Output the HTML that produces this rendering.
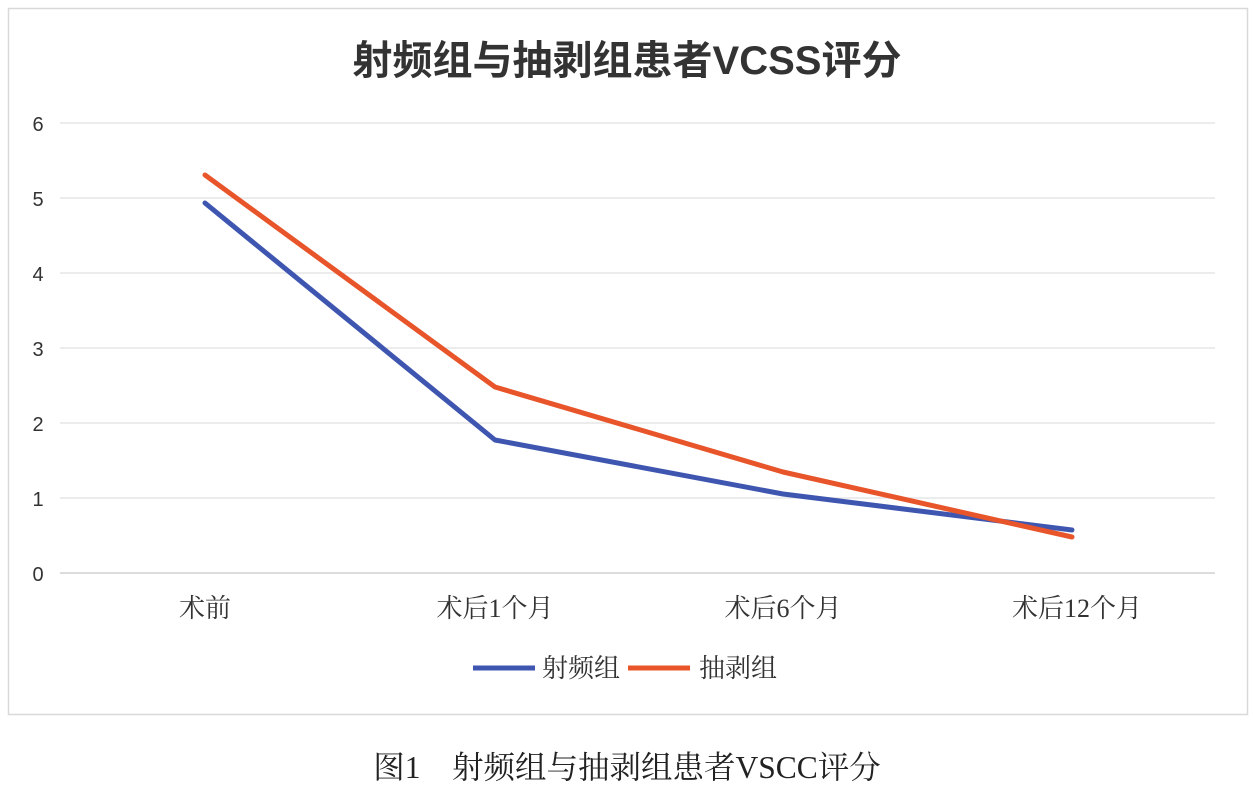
<!DOCTYPE html>
<html><head><meta charset="utf-8"><style>
html,body{margin:0;padding:0;background:#fff;}
svg{display:block;}
</style></head><body>
<svg width="1254" height="789" viewBox="0 0 1254 789" xmlns="http://www.w3.org/2000/svg">
<rect x="0" y="0" width="1254" height="789" fill="#fff"/>
<rect x="8.5" y="8.5" width="1239" height="706" fill="#fff" stroke="#d9d9d9" stroke-width="1.5"/>
<text x="627" y="74" text-anchor="middle" font-family="'Liberation Sans','Noto Sans CJK SC',sans-serif" font-weight="bold" font-size="40" fill="#333">射频组与抽剥组患者VCSS评分</text>
<g stroke="#e6e6e6" stroke-width="1.5">
<line x1="60" y1="123" x2="1215" y2="123"/>
<line x1="60" y1="198" x2="1215" y2="198"/>
<line x1="60" y1="273" x2="1215" y2="273"/>
<line x1="60" y1="348" x2="1215" y2="348"/>
<line x1="60" y1="423" x2="1215" y2="423"/>
<line x1="60" y1="498" x2="1215" y2="498"/>
</g>
<line x1="60" y1="573" x2="1215" y2="573" stroke="#d0d0d0" stroke-width="1.5"/>
<g font-family="'Liberation Sans',sans-serif" font-size="20" fill="#333" text-anchor="middle">
<text x="38" y="131">6</text><text x="38" y="206">5</text><text x="38" y="281">4</text>
<text x="38" y="356">3</text><text x="38" y="431">2</text><text x="38" y="506">1</text><text x="38" y="581">0</text>
</g>
<g font-family="'Liberation Serif','Noto Serif CJK SC',serif" font-size="26" fill="#333" text-anchor="middle">
<text x="205" y="617">术前</text>
<text x="495" y="617">术后1个月</text>
<text x="783" y="617">术后6个月</text>
<text x="1077" y="617">术后12个月</text>
</g>
<polyline points="205,203 495,440 783,494 1072,530" fill="none" stroke="#3f56b0" stroke-width="5" stroke-linejoin="round" stroke-linecap="round"/>
<polyline points="205,175 495,387 783,472 1072,537" fill="none" stroke="#e8552a" stroke-width="5" stroke-linejoin="round" stroke-linecap="round"/>
<line x1="473" y1="668" x2="535" y2="668" stroke="#3f56b0" stroke-width="5"/>
<text x="542" y="677" font-family="'Liberation Serif','Noto Serif CJK SC',serif" font-size="26" fill="#333">射频组</text>
<line x1="628" y1="668" x2="690" y2="668" stroke="#e8552a" stroke-width="5"/>
<text x="699" y="677" font-family="'Liberation Serif','Noto Serif CJK SC',serif" font-size="26" fill="#333">抽剥组</text>
<text x="627" y="778" text-anchor="middle" font-family="'Liberation Serif','Noto Serif CJK SC',serif" font-size="31.5" fill="#222">图1　射频组与抽剥组患者VSCC评分</text>
</svg>
</body></html>
